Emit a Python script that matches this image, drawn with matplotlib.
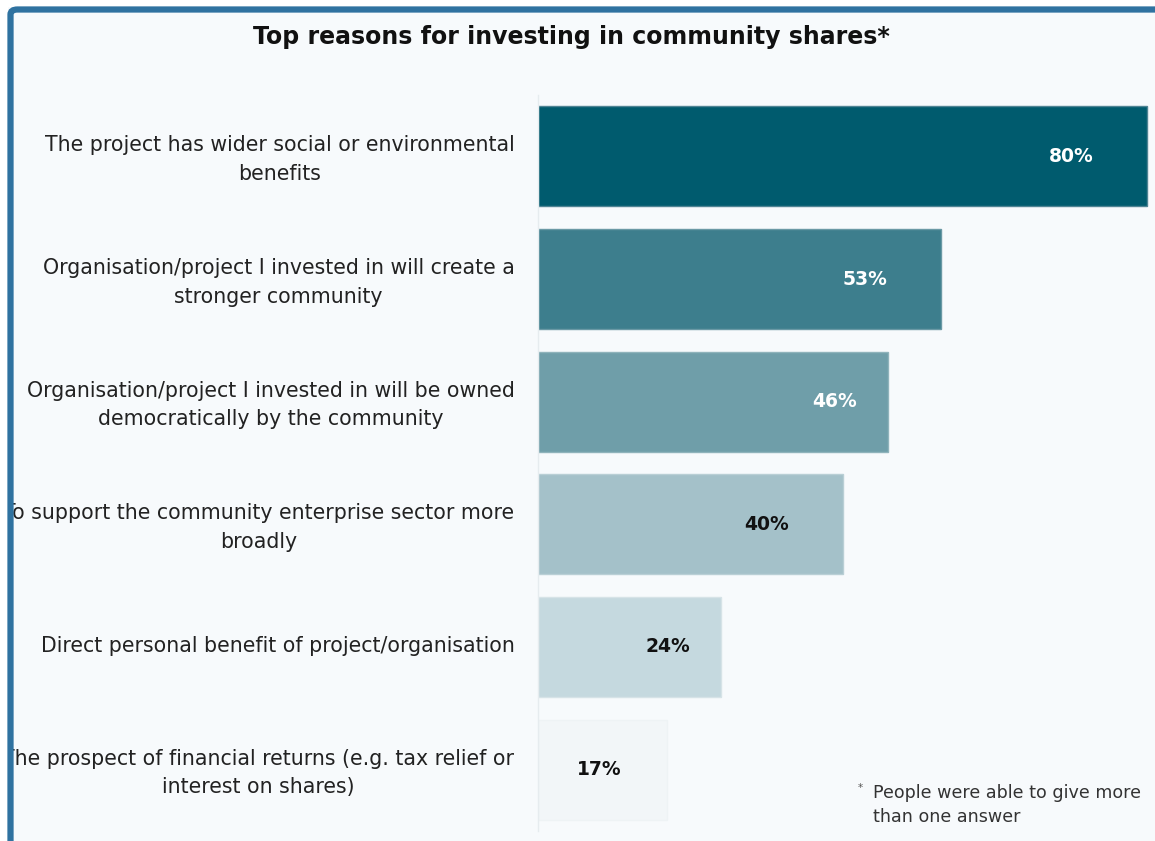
import matplotlib
matplotlib.use("Agg")
import matplotlib.pyplot as plt
import matplotlib.transforms as mtransforms
from matplotlib.patches import Rectangle, FancyBboxPatch

plt.rcParams["font.family"] = ["DejaVu Sans"]

reasons = [
    "The project has wider social or environmental\nbenefits",
    "Organisation/project I invested in will create a\nstronger community",
    "Organisation/project I invested in will be owned\ndemocratically by the community",
    "To support the community enterprise sector more\nbroadly",
    "Direct personal benefit of project/organisation",
    "The prospect of financial returns (e.g. tax relief or\ninterest on shares)",
]
shares = [80, 53, 46, 40, 24, 17]
bar_colors = ["#005b6e", "#3d7e8d", "#6f9ea9", "#a4c1c9", "#c5d9df", "#f2f6f8"]
edge_colors = ["#4f8494", "#6a99a5", "#8fb3bb", "#b9cfd5", "#d6e3e7", "#eef3f5"]
value_colors = ["white", "white", "white", "#111111", "#111111", "#111111"]
label_shift = [10, 10, 7, 10, 7, 9]

W, H = 1155, 841
fig = plt.figure(figsize=(W / 100, H / 100), dpi=100)
fig.patch.set_facecolor("white")
bg = "#f7fafc"

# light panel behind the chart
fig.patches.append(Rectangle((8 / W, 0), 1, 1 - 7 / H, transform=fig.transFigure,
                             facecolor=bg, edgecolor="none", zorder=-5))

left_px, right_px = 538, 1155
top_px, bot_px = 95, 831
ax = fig.add_axes([left_px / W, 1 - bot_px / H, (right_px - left_px) / W,
                   (bot_px - top_px) / H])
ax.set_facecolor("none")
ppu = (1147 - 538) / 80.0
ax.set_xlim(0, (right_px - left_px) / ppu)
ax.set_ylim(len(shares) - 0.5, -0.5)

ypos = list(range(len(shares)))
ax.barh(ypos, shares, height=0.815, color=bar_colors, edgecolor=edge_colors,
        linewidth=1.0, zorder=2)

for y, v, c, s in zip(ypos, shares, value_colors, label_shift):
    ax.text(v - s, y, f"{v}%", ha="center", va="center", color=c,
            fontsize=13.5, fontweight="bold", zorder=3)

ax.set_yticks(ypos)
ax.set_yticklabels(reasons, fontsize=14.8, color="#222222",
                   multialignment="center", linespacing=1.55)
ax.tick_params(axis="y", length=0, pad=17)
nudge = mtransforms.ScaledTranslation(0, 3 / 100, fig.dpi_scale_trans)
for lab in ax.get_yticklabels():
    lab.set_transform(lab.get_transform() + nudge)
ax.set_xticks([])
for side in ["top", "right", "bottom"]:
    ax.spines[side].set_visible(False)
ax.spines["left"].set_color("#e6ecef")
ax.spines["left"].set_linewidth(1.0)

fig.text(571 / W, 1 - 37 / H, "Top reasons for investing in community shares*",
         ha="center", va="center", fontsize=17, fontweight="bold",
         color="#111111")

fig.text(858 / W, 1 - 788 / H, "*", ha="left", va="center", fontsize=7.5,
         color="#555555")
fig.text(873 / W, 1 - 805 / H, "People were able to give more\nthan one answer",
         ha="left", va="center", fontsize=12.6, color="#333333",
         linespacing=1.4)

# blue frame drawn above the labels so long labels are cut at the edge
fig.patches.append(Rectangle((0, 0), 8 / W, 1, transform=fig.transFigure,
                             facecolor="white", edgecolor="none", zorder=20))
fig.patches.append(Rectangle((0, 1 - 7 / H), 1, 7 / H, transform=fig.transFigure,
                             facecolor="white", edgecolor="none", zorder=20))
fig.patches.append(FancyBboxPatch((10.5 / W, -0.1), 1.5, 1.1 - 9.5 / H,
                                  boxstyle="round,pad=0,rounding_size=0.006",
                                  transform=fig.transFigure, facecolor="none",
                                  edgecolor="#2f72a0", linewidth=4.5, zorder=21))

fig.savefig("out.png", dpi=100, facecolor=fig.get_facecolor())
